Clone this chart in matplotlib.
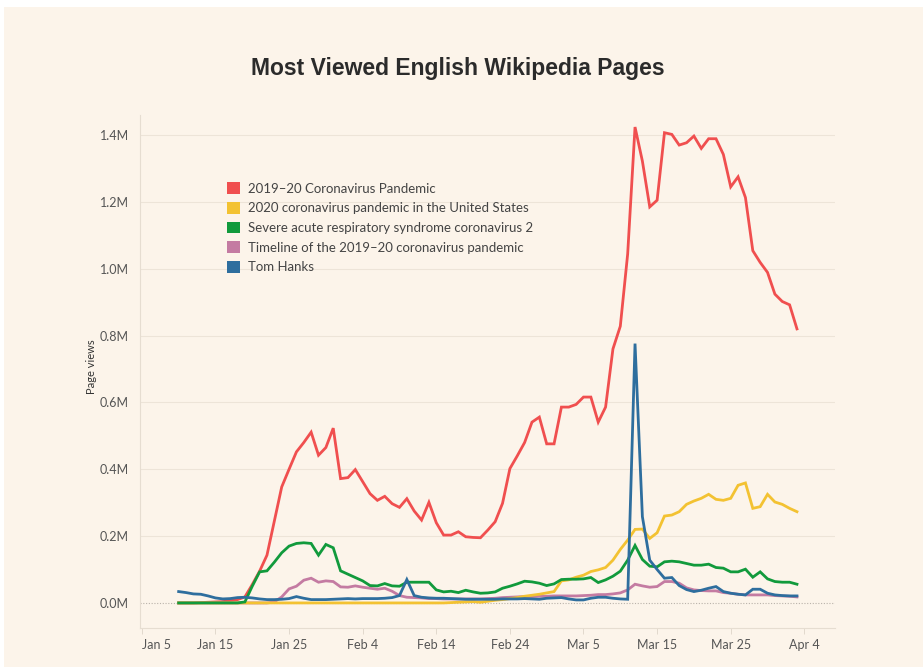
import matplotlib
matplotlib.use("Agg")
import matplotlib.pyplot as plt
from matplotlib.patches import Patch, Rectangle
import pandas as pd

# ---------------- data (millions of page views, daily Jan 10 – Apr 3, 2020) ----------------
dates = pd.date_range("2020-01-10", "2020-04-03", freq="D")

pandemic = [0.000, 0.000, 0.000, 0.001, 0.002, 0.003, 0.004, 0.007, 0.010, 0.018,
            0.055, 0.095, 0.143, 0.245, 0.347, 0.400, 0.452, 0.480, 0.511, 0.442,
            0.465, 0.523, 0.372, 0.375, 0.399, 0.363, 0.327, 0.307, 0.319, 0.297,
            0.286, 0.312, 0.275, 0.248, 0.301, 0.240, 0.203, 0.203, 0.213, 0.198,
            0.196, 0.195, 0.218, 0.243, 0.298, 0.402, 0.440, 0.480, 0.541, 0.556,
            0.476, 0.476, 0.586, 0.586, 0.594, 0.616, 0.616, 0.541, 0.586, 0.760,
            0.828, 1.044, 1.424, 1.322, 1.185, 1.205, 1.407, 1.402, 1.370, 1.377,
            1.397, 1.360, 1.389, 1.389, 1.342, 1.245, 1.275, 1.213, 1.054, 1.019,
            0.989, 0.924, 0.902, 0.892, 0.820]

us_pandemic = [0.0] * 37 + [
            0.001, 0.002, 0.003, 0.004, 0.002, 0.005, 0.008, 0.010, 0.013, 0.016,
            0.020, 0.023, 0.026, 0.030, 0.034, 0.066, 0.069, 0.077, 0.083, 0.094,
            0.099, 0.106, 0.128, 0.160, 0.188, 0.220, 0.221, 0.193, 0.210, 0.260,
            0.263, 0.273, 0.295, 0.305, 0.313, 0.325, 0.310, 0.307, 0.313, 0.352,
            0.359, 0.283, 0.288, 0.325, 0.302, 0.295, 0.283, 0.273]

sars_cov2 = [0.0] * 9 + [
            0.003, 0.050, 0.093, 0.096, 0.122, 0.150, 0.170, 0.178, 0.180, 0.178,
            0.143, 0.175, 0.165, 0.096, 0.086, 0.076, 0.066, 0.052, 0.051, 0.058,
            0.051, 0.050, 0.062, 0.062, 0.062, 0.062, 0.039, 0.033, 0.035, 0.031,
            0.038, 0.033, 0.029, 0.030, 0.033, 0.044, 0.050, 0.057, 0.065, 0.063,
            0.059, 0.052, 0.057, 0.070, 0.071, 0.071, 0.072, 0.076, 0.061, 0.069,
            0.080, 0.095, 0.128, 0.172, 0.130, 0.110, 0.108, 0.123, 0.125, 0.123,
            0.118, 0.113, 0.113, 0.116, 0.106, 0.104, 0.093, 0.093, 0.101, 0.077,
            0.093, 0.072, 0.064, 0.062, 0.062, 0.056]

timeline = [0.0] * 13 + [
            0.003, 0.018, 0.042, 0.050, 0.068, 0.074, 0.062, 0.066, 0.064, 0.048,
            0.047, 0.051, 0.047, 0.044, 0.041, 0.044, 0.035, 0.022, 0.017, 0.016,
            0.015, 0.013, 0.013, 0.012, 0.012, 0.012, 0.012, 0.012, 0.012, 0.013,
            0.014, 0.016, 0.017, 0.018, 0.019, 0.019, 0.020, 0.020, 0.021, 0.021,
            0.021, 0.021, 0.022, 0.023, 0.025, 0.025, 0.027, 0.030, 0.039, 0.056,
            0.051, 0.047, 0.049, 0.064, 0.064, 0.059, 0.045, 0.039, 0.037, 0.036,
            0.036, 0.031, 0.029, 0.026, 0.024, 0.024, 0.024, 0.024, 0.022, 0.021,
            0.020, 0.018]

tom_hanks = [0.034, 0.031, 0.027, 0.026, 0.021, 0.015, 0.012, 0.013, 0.016, 0.017,
            0.015, 0.012, 0.010, 0.010, 0.011, 0.013, 0.019, 0.014, 0.010, 0.010,
            0.010, 0.011, 0.012, 0.013, 0.012, 0.013, 0.013, 0.013, 0.014, 0.016,
            0.022, 0.070, 0.022, 0.017, 0.015, 0.014, 0.014, 0.013, 0.012, 0.011,
            0.011, 0.011, 0.011, 0.011, 0.012, 0.012, 0.012, 0.013, 0.012, 0.011,
            0.014, 0.015, 0.016, 0.012, 0.009, 0.009, 0.014, 0.017, 0.017, 0.014,
            0.012, 0.011, 0.776, 0.258, 0.128, 0.100, 0.074, 0.076, 0.052, 0.040,
            0.034, 0.038, 0.044, 0.049, 0.034, 0.029, 0.026, 0.024, 0.041, 0.041,
            0.029, 0.024, 0.022, 0.021, 0.021]

series_names = ["2019\u201320 Coronavirus Pandemic",
                "2020 coronavirus pandemic in the United States",
                "Severe acute respiratory syndrome coronavirus 2",
                "Timeline of the 2019\u201320 coronavirus pandemic",
                "Tom Hanks"]
series_values = [pandemic, us_pandemic, sars_cov2, timeline, tom_hanks]
colors = ["#F04F4F", "#F3C232", "#119A3C", "#C47BA2", "#2E6E9E"]

y_ticks = [0.0, 0.2, 0.4, 0.6, 0.8, 1.0, 1.2, 1.4]
y_tick_labels = ["0.0M", "0.2M", "0.4M", "0.6M", "0.8M", "1.0M", "1.2M", "1.4M"]
x_tick_dates = pd.date_range("2020-01-05", "2020-04-04", freq="10D")
x_tick_labels = ["Jan 5", "Jan 15", "Jan 25", "Feb 4", "Feb 14", "Feb 24",
                 "Mar 5", "Mar 15", "Mar 25", "Apr 4"]

# ---------------- figure ----------------
BG = "#FCF4EA"
W, H = 923, 667
fig = plt.figure(figsize=(W / 100, H / 100), dpi=100, facecolor="white")
fig.patches.append(Rectangle((4 / W, 0), 1 - 4 / W, 1 - 7 / H, transform=fig.transFigure,
                             facecolor=BG, edgecolor="none", zorder=-10))

ax = fig.add_axes([140 / W, 1 - 628 / H, (835 - 140) / W, (628 - 115) / H])
ax.set_facecolor(BG)

zorders = [3, 4, 5, 3.5, 6]
for name, vals, col, z in zip(series_names, series_values, colors, zorders):
    ax.plot(dates, vals, color=col, lw=2.0, solid_joinstyle="miter", zorder=z, label=name)

ax.set_ylim(-0.075, 1.46)
ax.set_xlim(pd.Timestamp("2020-01-05") - pd.Timedelta(hours=6),
            pd.Timestamp("2020-04-08") + pd.Timedelta(hours=4))

ax.set_yticks(y_ticks)
ax.set_yticklabels(y_tick_labels)
ax.set_xticks(x_tick_dates)
ax.set_xticklabels(x_tick_labels)

for t in ax.get_yticks()[1:]:
    ax.axhline(t, color="#EDE4D8", lw=0.8, zorder=1)
ax.axhline(0, color="#B9B2AA", lw=0.8, ls=(0, (1, 1.5)), zorder=1)

for s in ["top", "right"]:
    ax.spines[s].set_visible(False)
for s in ["left", "bottom"]:
    ax.spines[s].set_color("#E6DDD1")
    ax.spines[s].set_linewidth(0.8)

ax.tick_params(axis="y", length=0, pad=8, labelsize=9, labelcolor="#555555")
ax.tick_params(axis="x", length=4, width=0.6, color="#DDD4C8", pad=4,
               labelsize=9, labelcolor="#555555")
lbls = ax.get_xticklabels()
lbls[0].set_ha("left")

for lab in ax.get_xticklabels() + ax.get_yticklabels():
    lab.set_fontfamily(["Lato", "DejaVu Sans"])

ax.set_ylabel("Page views", fontsize=8, color="#333333", labelpad=4,
              fontfamily=["Lato", "DejaVu Sans"])
ax.yaxis.set_label_coords(-0.062, 0.51)

fig.text(458 / W, 1 - 68 / H, "Most Viewed English Wikipedia Pages",
         ha="center", va="center", fontsize=16.5, fontweight="bold",
         color="#2B2B2B", fontfamily=["Liberation Sans", "DejaVu Sans"])

handles = [Patch(facecolor=c, edgecolor="none") for c in colors]
leg = fig.legend(handles, series_names, loc="upper left",
                 bbox_to_anchor=(222 / W, 1 - 177 / H), frameon=False,
                 handlelength=1.0, handleheight=1.0, handletextpad=0.55,
                 labelspacing=0.55, borderaxespad=0,
                 prop={"family": ["Lato", "DejaVu Sans"], "size": 9.5})
for t in leg.get_texts():
    t.set_color("#444444")

fig.savefig("out.png", dpi=100, facecolor="white")
